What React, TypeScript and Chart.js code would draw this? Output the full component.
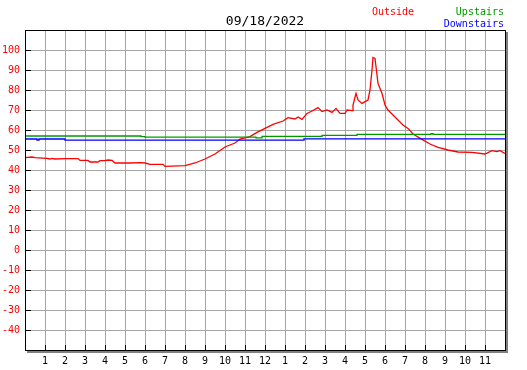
import React, { useEffect, useRef } from 'react';
import { Chart, registerables } from 'chart.js';

Chart.register(...registerables);

const titleText = '09/18/2022';
const seriesNames = ['Outside', 'Upstairs', 'Downstairs'];
const seriesColors = ['#ff0000', '#009900', '#0000ff'];

const yMin = -50;
const yMax = 110;
const yStep = 10;
const xMin = 0;
const xMax = 24;

const outsideHours = [
  0, 0.35, 0.5, 1.1, 1.25, 1.35, 1.5, 2.0, 2.65, 2.75, 3.15, 3.25, 3.65, 3.75, 4.0, 4.15, 4.35, 4.5,
  5.25, 5.75, 6.0, 6.25, 6.9, 7.0, 8.0, 8.5, 9.0, 9.5, 10.0, 10.5, 10.75, 11.25, 11.6, 11.9, 12.4,
  12.9, 13.15, 13.5, 13.65, 13.85, 14.1, 14.35, 14.65, 14.85, 15.1, 15.35, 15.55, 15.75, 16.0, 16.1,
  16.35, 16.4, 16.55, 16.65, 16.85, 17.0, 17.15, 17.25, 17.35, 17.4, 17.5, 17.6, 17.65, 17.85, 18.0,
  18.15, 18.4, 18.65, 18.9, 19.15, 19.4, 19.85, 20.25, 20.65, 21.15, 21.65, 22.35, 23.0, 23.35, 23.6,
  23.75, 24.0,
];
const outsideTemps = [
  46.2, 46.5, 46.2, 45.8, 45.5, 45.8, 45.5, 45.7, 45.7, 44.8, 44.8, 44.0, 44.0, 44.7, 44.7, 45.0, 44.8, 43.5,
  43.5, 43.7, 43.5, 42.8, 42.8, 41.8, 42.2, 43.5, 45.5, 48.0, 51.5, 53.5, 55.5, 56.7, 58.8, 60.3, 62.8,
  64.5, 66.2, 65.5, 66.5, 65.3, 68.3, 69.5, 71.2, 69.2, 70.0, 68.8, 70.8, 68.3, 68.3, 70.0,
  69.7, 72.5, 78.3, 75.0, 73.3, 74.2, 75.0, 80.0, 90.0, 96.3, 95.8, 87.5, 83.3, 78.3, 72.5,
  70.0, 67.5, 65.0, 62.5, 60.8, 58.0, 55.3, 53.0, 51.3, 50.0, 49.0, 48.8, 48.0, 49.7, 49.2,
  49.7, 48.3,
];

const upstairsHours = [0, 5.8, 6.0, 11.55, 11.85, 14.85, 16.6, 20.3, 20.4, 24];
const upstairsTemps = [57.0, 56.7, 56.4, 56.1, 56.8, 57.3, 57.8, 58.2, 57.8, 57.8];

const downstairsHours = [0, 0.6, 0.7, 2.0, 13.95, 24];
const downstairsTemps = [55.5, 55.0, 55.5, 54.9, 55.6, 55.6];

const toPoints = (xs: number[], ys: number[]) => xs.map((x, i) => ({ x, y: ys[i] }));

const MONO = '"DejaVu Sans Mono", monospace';

const framePlugin = {
  id: 'frameAndText',
  afterDraw(chart: any) {
    const { ctx, chartArea } = chart;
    const { left, right, top, bottom } = chartArea;
    const xs = chart.scales.x;
    const ys = chart.scales.y;
    ctx.save();
    // shadow
    ctx.fillStyle = '#808080';
    ctx.fillRect(Math.round(right) + 1, Math.round(top) + 2, 2, Math.round(bottom - top) + 1);
    ctx.fillRect(Math.round(left) + 2, Math.round(bottom) + 1, Math.round(right - left) + 1, 2);
    // frame
    ctx.strokeStyle = '#000';
    ctx.lineWidth = 1;
    ctx.strokeRect(Math.round(left) + 0.5, Math.round(top) + 0.5, Math.round(right - left), Math.round(bottom - top));
    // inner tick marks
    ctx.beginPath();
    for (let v = yMin + yStep; v < yMax; v += yStep) {
      const py = Math.round(ys.getPixelForValue(v)) + 0.5;
      ctx.moveTo(Math.round(left), py);
      ctx.lineTo(Math.round(left) + 6, py);
    }
    for (let h = xMin + 1; h < xMax; h += 1) {
      const px = Math.round(xs.getPixelForValue(h)) + 0.5;
      ctx.moveTo(px, Math.round(bottom));
      ctx.lineTo(px, Math.round(bottom) - 5);
    }
    ctx.stroke();
    // title
    ctx.fillStyle = '#000';
    ctx.font = '13px ' + MONO;
    ctx.textAlign = 'center';
    ctx.textBaseline = 'alphabetic';
    ctx.fillText(titleText, 265, 25);
    // legend
    ctx.font = '10px ' + MONO;
    ctx.textAlign = 'left';
    ctx.fillStyle = seriesColors[0];
    ctx.fillText(seriesNames[0], 372, 15);
    ctx.textAlign = 'right';
    ctx.fillStyle = seriesColors[1];
    ctx.fillText(seriesNames[1], 504, 15);
    ctx.fillStyle = seriesColors[2];
    ctx.fillText(seriesNames[2], 504, 27);
    ctx.restore();
  },
};

export default function App() {
  const ref = useRef<HTMLCanvasElement | null>(null);
  useEffect(() => {
    if (!ref.current) return;
    const chart = new Chart(ref.current, {
      type: 'line',
      data: {
        datasets: [
          {
            label: seriesNames[1],
            data: toPoints(upstairsHours, upstairsTemps),
            borderColor: seriesColors[1],
            borderWidth: 1.3,
            pointRadius: 0,
            stepped: true,
            fill: false,
          },
          {
            label: seriesNames[2],
            data: toPoints(downstairsHours, downstairsTemps),
            borderColor: seriesColors[2],
            borderWidth: 1.3,
            pointRadius: 0,
            stepped: true,
            fill: false,
          },
          {
            label: seriesNames[0],
            data: toPoints(outsideHours, outsideTemps),
            borderColor: seriesColors[0],
            borderWidth: 1.3,
            pointRadius: 0,
            tension: 0,
            fill: false,
          },
        ],
      },
      options: {
        responsive: false,
        animation: false,
        devicePixelRatio: 1,
        layout: { padding: { top: 30, right: 22, left: 0, bottom: 0 } },
        plugins: { legend: { display: false }, title: { display: false }, tooltip: { enabled: false } },
        scales: {
          x: {
            type: 'linear',
            min: xMin,
            max: xMax,
            afterFit: (s: any) => { s.height = 20; },
            afterBuildTicks: (s: any) => {
              const t = [];
              for (let h = xMin; h <= xMax; h++) t.push({ value: h });
              s.ticks = t;
            },
            ticks: {
              stepSize: 1,
              autoSkip: false,
              maxRotation: 0,
              padding: 5,
              color: '#000',
              font: { family: MONO, size: 10 },
              callback: (v: any) => {
                const n = Number(v);
                if (n <= xMin || n >= xMax) return '';
                const h = n % 12;
                return String(h === 0 ? 12 : h);
              },
            },
            grid: {
              drawTicks: false,
              color: (c: any) => (c.tick && (c.tick.value <= xMin || c.tick.value >= xMax) ? 'rgba(0,0,0,0)' : '#a6a6a6'),
              lineWidth: 1,
            },
            border: { display: false },
          },
          y: {
            type: 'linear',
            min: yMin,
            max: yMax,
            afterFit: (s: any) => { s.width = 25; },
            ticks: {
              stepSize: yStep,
              autoSkip: false,
              padding: 5,
              color: '#ff0000',
              font: { family: MONO, size: 10 },
              callback: (v: any) => {
                const n = Number(v);
                if (n <= yMin || n >= yMax) return '';
                return String(n);
              },
            },
            grid: {
              drawTicks: false,
              color: (c: any) => (c.tick && (c.tick.value <= yMin || c.tick.value >= yMax) ? 'rgba(0,0,0,0)' : '#a6a6a6'),
              lineWidth: 1,
            },
            border: { display: false },
          },
        },
      },
      plugins: [framePlugin],
    } as any);
    return () => chart.destroy();
  }, []);
  return (
    <div style={{ position: 'fixed', left: 0, top: 0, width: 527, height: 370, background: '#fff' }}>
      <canvas ref={ref} width={527} height={370} style={{ display: 'block', width: 527, height: 370 }} />
    </div>
  );
}
